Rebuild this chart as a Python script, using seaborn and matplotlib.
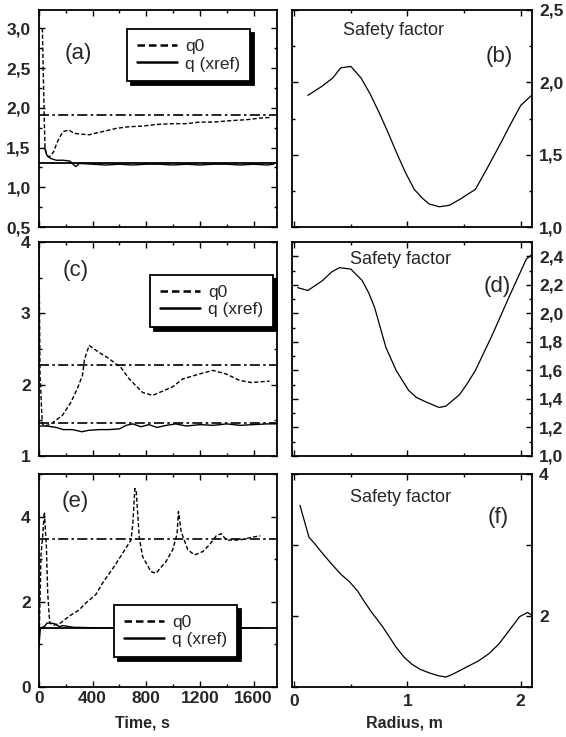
import matplotlib
matplotlib.use("Agg")
import matplotlib.pyplot as plt
import seaborn as sns
from matplotlib.ticker import MultipleLocator, FuncFormatter, FixedLocator

sns.set_style("ticks")
plt.rcParams['font.family'] = ['Liberation Sans', 'DejaVu Sans']
plt.rcParams['font.weight'] = 'bold'

# ---------------- data ----------------
# panel (a): time traces
t_a_q0 = [25, 30, 35, 40, 45, 55, 70, 90, 110, 125, 150, 180, 224, 260, 300, 374, 420, 474,
          574, 660, 773, 880, 997, 1100, 1197, 1300, 1446, 1550, 1646, 1733]
q0_a = [3.0, 2.6, 2.2, 1.8, 1.5, 1.42, 1.38, 1.40, 1.45, 1.52, 1.62, 1.70, 1.72, 1.68, 1.67,
        1.66, 1.68, 1.70, 1.74, 1.76, 1.77, 1.79, 1.80, 1.80, 1.82, 1.82, 1.84, 1.85, 1.87, 1.88]
t_a_qx = [40, 60, 90, 130, 180, 230, 260, 275, 300, 400, 500, 600, 700, 800, 900, 1000, 1100,
          1200, 1300, 1400, 1500, 1600, 1700, 1750]
qx_a = [1.50, 1.40, 1.36, 1.34, 1.34, 1.33, 1.28, 1.26, 1.30, 1.29, 1.28, 1.29, 1.28, 1.29,
        1.29, 1.28, 1.29, 1.28, 1.29, 1.29, 1.28, 1.29, 1.28, 1.29]
target_a_q0 = 1.91
target_a_qx = 1.30

# panel (c)
t_c_q0 = [0, 8, 12, 18, 25, 40, 80, 125, 175, 237, 287, 324, 340, 374, 449, 511, 611, 673,
          773, 848, 997, 1072, 1197, 1296, 1396, 1496, 1583, 1720]
q0_c = [3.9, 2.1, 2.0, 1.7, 1.45, 1.42, 1.44, 1.50, 1.57, 1.75, 1.95, 2.13, 2.36, 2.55, 2.45,
        2.38, 2.24, 2.08, 1.89, 1.85, 1.97, 2.08, 2.15, 2.20, 2.15, 2.06, 2.03, 2.05]
t_c_qx = [0, 60, 130, 180, 250, 320, 370, 450, 520, 600, 650, 700, 760, 820, 880, 950, 1020,
          1100, 1200, 1300, 1400, 1500, 1600, 1700, 1770]
qx_c = [1.42, 1.42, 1.40, 1.37, 1.37, 1.34, 1.36, 1.37, 1.37, 1.38, 1.43, 1.45, 1.41, 1.44,
        1.40, 1.43, 1.45, 1.42, 1.44, 1.43, 1.45, 1.43, 1.44, 1.45, 1.45]
target_c_q0 = 2.27
target_c_qx = 1.46

# panel (e)
t_e_q0 = [0, 15, 25, 40, 55, 65, 80, 110, 160, 224, 299, 349, 424, 474, 561, 648, 686, 700,
          715, 725, 748, 773, 835, 873, 948, 997, 1030, 1040, 1060, 1110, 1160, 1222, 1272,
          1322, 1360, 1396, 1496, 1596, 1650]
q0_e = [0.96, 3.1, 3.45, 4.1, 3.3, 2.2, 1.5, 1.45, 1.5, 1.66, 1.81, 1.97, 2.17, 2.44, 2.83,
        3.26, 3.45, 3.84, 4.66, 4.6, 3.5, 3.06, 2.71, 2.67, 2.95, 3.22, 3.6, 4.12, 3.65, 3.22,
        3.10, 3.18, 3.34, 3.55, 3.6, 3.45, 3.45, 3.52, 3.55]
t_e_qx = [0, 10, 25, 40, 60, 90, 120, 150, 180, 220, 260, 300, 400, 500, 600, 800, 1000,
          1200, 1400, 1650]
qx_e = [0.96, 1.38, 1.40, 1.42, 1.50, 1.50, 1.48, 1.42, 1.44, 1.42, 1.40, 1.40, 1.39, 1.39,
        1.39, 1.39, 1.39, 1.39, 1.39, 1.39]
target_e_q0 = 3.48
target_e_qx = 1.39

# panel (b): safety factor profile
r_b = [0.12, 0.24, 0.34, 0.41, 0.50, 0.59, 0.67, 0.75, 0.83, 0.90, 0.98, 1.06, 1.13, 1.19,
       1.28, 1.37, 1.46, 1.60, 1.70, 1.81, 1.91, 2.00, 2.11]
q_b = [1.91, 1.97, 2.03, 2.10, 2.11, 2.03, 1.92, 1.79, 1.65, 1.52, 1.38, 1.26, 1.20, 1.16,
       1.14, 1.15, 1.19, 1.26, 1.40, 1.56, 1.71, 1.84, 1.92]

# panel (d)
r_d = [0.03, 0.12, 0.25, 0.33, 0.40, 0.50, 0.60, 0.66, 0.71, 0.76, 0.81, 0.90, 1.01, 1.08,
       1.16, 1.28, 1.34, 1.46, 1.53, 1.60, 1.75, 1.90, 2.05, 2.11]
q_d = [2.18, 2.16, 2.23, 2.29, 2.32, 2.31, 2.23, 2.14, 2.04, 1.90, 1.76, 1.60, 1.46, 1.41,
       1.38, 1.34, 1.35, 1.43, 1.51, 1.60, 1.85, 2.12, 2.38, 2.42]

# panel (f)
r_f = [0.05, 0.13, 0.18, 0.23, 0.32, 0.41, 0.49, 0.56, 0.62, 0.68, 0.78, 0.90, 0.97, 1.04,
       1.11, 1.19, 1.27, 1.34, 1.40, 1.46, 1.63, 1.72, 1.81, 1.90, 1.99, 2.06, 2.10]
q_f = [3.56, 3.11, 3.02, 2.92, 2.75, 2.59, 2.48, 2.35, 2.20, 2.06, 1.85, 1.56, 1.42, 1.32,
       1.25, 1.20, 1.16, 1.14, 1.18, 1.23, 1.37, 1.47, 1.61, 1.80, 1.99, 2.05, 2.01]

legend_labels = ["q0", "q (xref)"]
panel_labels = ["(a)", "(b)", "(c)", "(d)", "(e)", "(f)"]
profile_title = "Safety factor"
time_label = "Time, s"
radius_label = "Radius, m"

# ---------------- figure ----------------
W, H = 566, 737
fig = plt.figure(figsize=(W / 100, H / 100), dpi=100)


def px_axes(x0, x1, y0, y1):
    return fig.add_axes([x0 / W, 1 - y1 / H, (x1 - x0) / W, (y1 - y0) / H])


rows = [(10, 227), (242, 456), (474, 687)]
axL = [px_axes(39, 277, *r) for r in rows]
axR = [px_axes(292, 532, *r) for r in rows]

DASH_Q0 = (0, (3, 1.6))
DASH_T = (0, (6, 2, 1.5, 2))
comma1 = FuncFormatter(lambda v, p: f"{v:.1f}".replace('.', ','))
intfmt = FuncFormatter(lambda v, p: f"{v:.0f}")


def style(ax):
    for s in ax.spines.values():
        s.set_linewidth(1.3)
        s.set_color('black')
    ax.tick_params(which='both', direction='in', top=True, right=True, bottom=True,
                   left=True, color='black', width=1, labelsize=12.5)
    ax.tick_params(which='major', length=4)
    ax.tick_params(which='minor', length=2.5)


def time_panel(ax, t0, q0, tx, qx, tq0, tqx, qx_target_solid, ylim, major, minor, fmt,
               leg_anchor, lab, lab_xy, show_x):
    ax.axhline(tq0, color='black', lw=1.2, linestyle=DASH_T)
    if qx_target_solid:
        ax.axhline(tqx, color='black', lw=1.3)
    else:
        ax.axhline(tqx, color='black', lw=1.2, linestyle=DASH_T)
    sns.lineplot(x=t0, y=q0, ax=ax, color='black', lw=1.0, linestyle=DASH_Q0,
                 sort=False, estimator=None, label=legend_labels[0])
    sns.lineplot(x=tx, y=qx, ax=ax, color='black', lw=1.0, sort=False, estimator=None,
                 label=legend_labels[1])
    ax.set_xlim(0, 1775)
    ax.set_ylim(*ylim)
    ax.xaxis.set_major_locator(MultipleLocator(400))
    ax.xaxis.set_minor_locator(MultipleLocator(200))
    ax.yaxis.set_major_locator(MultipleLocator(major))
    ax.yaxis.set_minor_locator(MultipleLocator(minor))
    ax.yaxis.set_major_formatter(fmt)
    ax.xaxis.set_major_formatter(intfmt)
    style(ax)
    ax.tick_params(axis='y', pad=6)
    ax.tick_params(axis='x', labelbottom=show_x, pad=3)
    ax.set_xlabel("")
    ax.set_ylabel("")
    leg = ax.legend(loc='upper right', bbox_to_anchor=leg_anchor, borderaxespad=0,
                    prop={'weight': 'normal', 'size': 12.5}, frameon=True, fancybox=False,
                    shadow={'color': 'black', 'alpha': 1.0, 'ox': 3, 'oy': -3},
                    handlelength=2.3, labelspacing=0.15, borderpad=0.55,
                    handletextpad=0.5, edgecolor='black', framealpha=1)
    leg.get_frame().set_linewidth(1.3)
    for h in leg.legend_handles:
        h.set_linewidth(1.8)
    ax.text(*lab_xy, lab, transform=ax.transAxes, ha='center', va='center',
            fontsize=16, fontweight='normal')


time_panel(axL[0], t_a_q0, q0_a, t_a_qx, qx_a, target_a_q0, target_a_qx, True,
           (0.5, 3.23), 0.5, 0.25, comma1, (0.887, 0.912), panel_labels[0], (0.164, 0.80), False)
time_panel(axL[1], t_c_q0, q0_c, t_c_qx, qx_c, target_c_q0, target_c_qx, False,
           (1.0, 4.0), 1, 0.5, intfmt, (0.983, 0.846), panel_labels[2], (0.155, 0.869), False)
time_panel(axL[2], t_e_q0, q0_e, t_e_qx, qx_e, target_e_q0, target_e_qx, True,
           (0.0, 5.0), 2, 1, intfmt, (0.832, 0.385), panel_labels[4], (0.151, 0.869), True)
axL[2].set_xlabel(time_label, fontsize=11.5, fontweight='bold')
axL[2].xaxis.set_label_coords(0.435, -0.135)


def profile_panel(ax, r, q, ylim, yticks, ylabels, minor, lab, lab_xy, title_xy, show_x):
    sns.lineplot(x=r, y=q, ax=ax, color='black', lw=0.9, sort=False, estimator=None)
    ax.set_xlim(-0.02, 2.1)
    ax.set_ylim(*ylim)
    ax.xaxis.set_major_locator(MultipleLocator(1))
    ax.xaxis.set_minor_locator(MultipleLocator(0.5))
    ax.yaxis.set_major_locator(FixedLocator(yticks))
    ax.set_yticklabels(ylabels)
    if minor:
        ax.yaxis.set_minor_locator(MultipleLocator(minor))
    ax.xaxis.set_major_formatter(intfmt)
    style(ax)
    ax.tick_params(axis='y', labelleft=False, labelright=True, pad=5)
    ax.tick_params(axis='x', labelbottom=show_x, pad=5)
    ax.set_xlabel("")
    ax.set_ylabel("")
    ax.text(*title_xy, profile_title, transform=ax.transAxes, ha='center', va='center',
            fontsize=13, fontweight='normal')
    ax.text(*lab_xy, lab, transform=ax.transAxes, ha='center', va='center',
            fontsize=16, fontweight='normal')


b_ticks = [1.0, 1.5, 2.0, 2.5]
profile_panel(axR[0], r_b, q_b, (1.0, 2.5), b_ticks, [f"{v:.1f}".replace('.', ',') for v in b_ticks],
              0.25, panel_labels[1], (0.8625, 0.788), (0.423, 0.905), False)
d_ticks = [1.0, 1.2, 1.4, 1.6, 1.8, 2.0, 2.2, 2.4]
profile_panel(axR[1], r_d, q_d, (1.0, 2.5), d_ticks, [f"{v:.1f}".replace('.', ',') for v in d_ticks],
              0.1, panel_labels[3], (0.854, 0.794), (0.45, 0.92), False)
f_ticks = [1, 2, 3, 4]
profile_panel(axR[2], r_f, q_f, (1.0, 4.0), f_ticks, ["", "2", "", "4"],
              None, panel_labels[5], (0.858, 0.798), (0.45, 0.89), True)
axR[2].set_xlabel(radius_label, fontsize=11.5, fontweight='bold')
axR[2].xaxis.set_label_coords(0.467, -0.135)

fig.savefig("out.png", dpi=100)
